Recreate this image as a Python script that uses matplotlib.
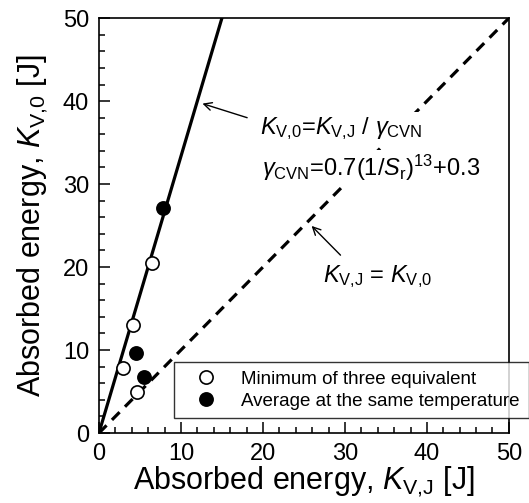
import matplotlib
matplotlib.use("Agg")
import matplotlib.pyplot as plt
import numpy as np

# Data
min_three_x = [2.9, 4.1, 6.5, 4.6]
min_three_y = [7.9, 13.0, 20.5, 4.9]
avg_temp_x = [7.8, 4.5, 5.5]
avg_temp_y = [27.1, 9.7, 6.7]
fit_slope = 50 / 15.0        # K_V,0 = K_V,J / gamma_CVN
line_x = [0, 50]

plt.rcParams['font.family'] = ['Liberation Sans', 'DejaVu Sans']
plt.rcParams['mathtext.fontset'] = 'custom'
plt.rcParams['mathtext.rm'] = 'Liberation Sans'
plt.rcParams['mathtext.it'] = 'Liberation Sans:italic'
plt.rcParams['mathtext.bf'] = 'Liberation Sans:bold'

fig = plt.figure(figsize=(5.29, 5.03), dpi=100)
ax = fig.add_axes([0.187, 0.139, 0.775, 0.825])

fx = np.array(line_x, dtype=float)
ax.plot(fx, fx * fit_slope, color='black', lw=2.3, solid_capstyle='butt', zorder=2)
ax.plot(fx, fx, color='black', lw=2.3, ls=(0, (3.4, 2.4)), zorder=2)

ax.plot(min_three_x, min_three_y, 'o', ms=9.5, mfc='white', mec='black', mew=1.2,
        ls='none', label='Minimum of three equivalent', zorder=4)
ax.plot(avg_temp_x, avg_temp_y, 'o', ms=9.5, mfc='black', mec='black', mew=1.2,
        ls='none', label='Average at the same temperature', zorder=4)

ax.set_xlim(0, 50)
ax.set_ylim(0, 50)
ax.set_xticks([0, 10, 20, 30, 40, 50])
ax.set_yticks([0, 10, 20, 30, 40, 50])
ax.set_xticks(np.arange(0, 51, 2), minor=True)
ax.set_yticks(np.arange(0, 51, 2), minor=True)
ax.tick_params(which='both', direction='in', top=False, right=False, labelsize=17, width=1.1)
ax.tick_params(which='major', length=8, pad=7)
ax.tick_params(which='minor', length=4.5)
for s in ax.spines.values():
    s.set_linewidth(1.2)

ax.set_xlabel(r'Absorbed energy, $\mathit{K}_{\mathrm{V{,}J}}$ [J]', fontsize=22, labelpad=0)
ax.set_ylabel(r'Absorbed energy, $\mathit{K}_{\mathrm{V{,}0}}$ [J]', fontsize=22, labelpad=9)

# annotations
ax.annotate('', xy=(12.3, 39.8), xytext=(18.4, 37.9),
            arrowprops=dict(arrowstyle='->', color='black', lw=1.0, mutation_scale=14))
ax.annotate('', xy=(25.7, 25.2), xytext=(29.7, 21.2),
            arrowprops=dict(arrowstyle='->', color='black', lw=1.0, mutation_scale=14))

ax.text(19.6, 36.7, r'$\mathit{K}_{\mathrm{V{,}0}}$=$\mathit{K}_{\mathrm{V{,}J}}$ / $\mathit{\gamma}_{\mathrm{CVN}}$',
        fontsize=17, va='center', ha='left', zorder=3,
        bbox=dict(facecolor='white', edgecolor='none', pad=2))
ax.text(19.9, 32.0, r'$\mathit{\gamma}_{\mathrm{CVN}}$=0.7(1/$\mathit{S}_{\mathrm{r}}$)$^{13}$+0.3',
        fontsize=17, va='center', ha='left', zorder=3,
        bbox=dict(facecolor='white', edgecolor='none', pad=2))
ax.text(27.3, 18.8, r'$\mathit{K}_{\mathrm{V{,}J}}$ = $\mathit{K}_{\mathrm{V{,}0}}$',
        fontsize=17, va='center', ha='left', zorder=3)

leg = ax.legend(loc='lower left', bbox_to_anchor=(0.183, 0.036, 0.866, 0.135),
                mode='expand', fontsize=13.5, frameon=True, fancybox=False,
                borderaxespad=0, handletextpad=0.6, borderpad=0.45,
                labelspacing=0.25, handlelength=2.5)
leg.get_frame().set_edgecolor('black')
leg.get_frame().set_linewidth(1.0)
leg.set_zorder(5)

fig.savefig('out.png', dpi=100)
